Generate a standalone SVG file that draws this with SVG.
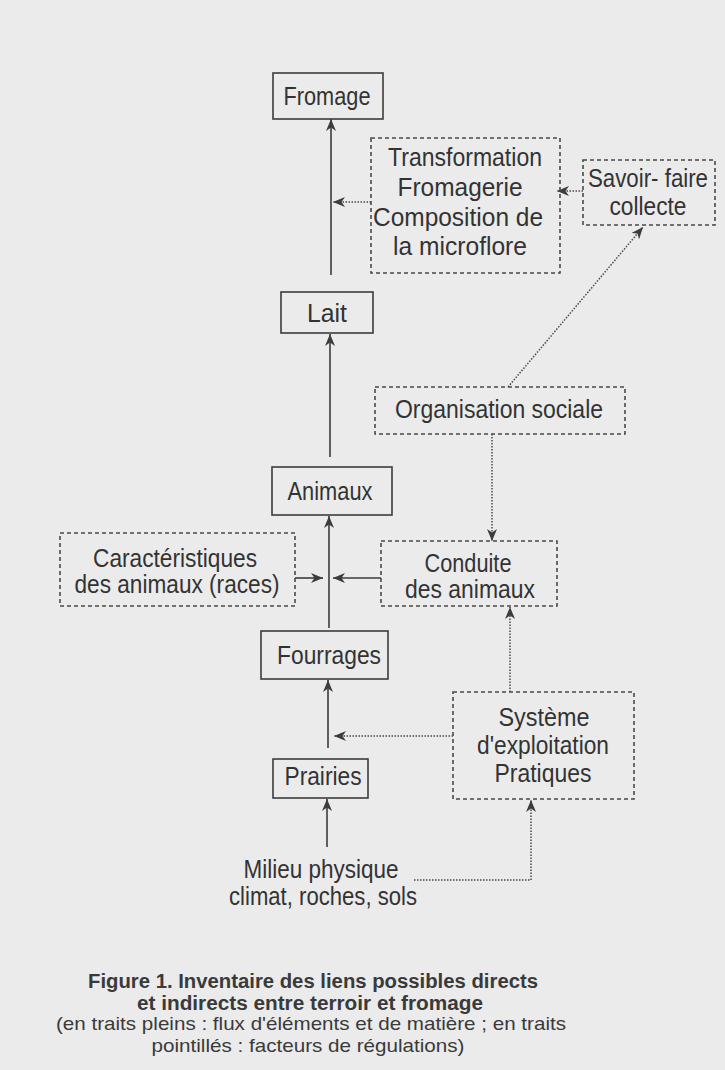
<svg xmlns="http://www.w3.org/2000/svg" width="725" height="1070" viewBox="0 0 725 1070">
<defs>
<style>
.bg{fill:#ebebeb}
.box{fill:none;stroke:#3c3c3c;stroke-width:1.6}
.dbox{fill:none;stroke:#4a4a4a;stroke-width:1.6;stroke-dasharray:4 3}
.t{font-family:"Liberation Sans",Arial,sans-serif;font-size:26px;fill:#333333;text-anchor:middle}
.cap{font-family:"Liberation Sans",Arial,sans-serif;font-size:19px;fill:#3a3a3a;text-anchor:middle}
.capb{font-family:"Liberation Sans",Arial,sans-serif;font-size:20px;font-weight:bold;fill:#3a3a3a;text-anchor:middle}
.solid{fill:none;stroke:#3c3c3c;stroke-width:1.6;marker-end:url(#ah)}
.dot{fill:none;stroke:#4a4a4a;stroke-width:1.5;stroke-dasharray:1.5 1.5;marker-end:url(#ah)}
</style>
<marker id="ah" markerUnits="userSpaceOnUse" markerWidth="13" markerHeight="10" refX="12" refY="5" orient="auto">
<path d="M0,0 L12,5 L0,10 L3.5,5 Z" fill="#3c3c3c"/>
</marker>
</defs>
<rect class="bg" x="0" y="0" width="725" height="1070"/>

<g id="connectors">
<line class="solid" x1="331" y1="275" x2="331" y2="119"/>
<line class="solid" x1="330" y1="457" x2="330" y2="334"/>
<line class="solid" x1="329" y1="628" x2="329" y2="516"/>
<line class="solid" x1="328" y1="748" x2="328" y2="680"/>
<line class="solid" x1="327" y1="847" x2="327" y2="799"/>
<line class="solid" x1="295" y1="578" x2="323" y2="578"/>
<line class="solid" x1="381" y1="578" x2="333" y2="578"/>
<line class="dot" x1="371" y1="202" x2="333" y2="202"/>
<line class="dot" x1="583" y1="191" x2="557" y2="191"/>
<line class="dot" x1="508" y1="387" x2="643" y2="227"/>
<line class="dot" x1="492" y1="434" x2="492" y2="541"/>
<line class="dot" x1="510" y1="692" x2="510" y2="607"/>
<line class="dot" x1="453" y1="736" x2="334" y2="736"/>
<path class="dot" d="M414,880 H531 V800"/>
</g>

<g id="fromage">
<rect class="box" x="273" y="73" width="110" height="46"/>
<text class="t" x="327" y="105" textLength="87" lengthAdjust="spacingAndGlyphs">Fromage</text>
</g>
<g id="transformation">
<rect class="dbox" x="371" y="138" width="189" height="135"/>
<text class="t" x="465" y="166" textLength="154" lengthAdjust="spacingAndGlyphs">Transformation</text>
<text class="t" x="460" y="196" textLength="125" lengthAdjust="spacingAndGlyphs">Fromagerie</text>
<text class="t" x="458" y="226" textLength="170" lengthAdjust="spacingAndGlyphs">Composition de</text>
<text class="t" x="460" y="255" textLength="134" lengthAdjust="spacingAndGlyphs">la microflore</text>
</g>
<g id="savoir-faire">
<rect class="dbox" x="583" y="160" width="132" height="65"/>
<text class="t" x="648" y="187" textLength="120" lengthAdjust="spacingAndGlyphs">Savoir- faire</text>
<text class="t" x="648" y="215" textLength="77" lengthAdjust="spacingAndGlyphs">collecte</text>
</g>
<g id="lait">
<rect class="box" x="281" y="292" width="92" height="41"/>
<text class="t" x="327" y="322" textLength="40" lengthAdjust="spacingAndGlyphs">Lait</text>
</g>
<g id="organisation">
<rect class="dbox" x="375" y="387" width="250" height="47"/>
<text class="t" x="499" y="418" textLength="208" lengthAdjust="spacingAndGlyphs">Organisation sociale</text>
</g>
<g id="animaux">
<rect class="box" x="272" y="467" width="120" height="48"/>
<text class="t" x="330" y="500" textLength="85" lengthAdjust="spacingAndGlyphs">Animaux</text>
</g>
<g id="caracteristiques">
<rect class="dbox" x="60" y="533" width="235" height="73"/>
<text class="t" x="175" y="567" textLength="164" lengthAdjust="spacingAndGlyphs">Caractéristiques</text>
<text class="t" x="177" y="593" textLength="205" lengthAdjust="spacingAndGlyphs">des animaux (races)</text>
</g>
<g id="conduite">
<rect class="dbox" x="381" y="541" width="176" height="65"/>
<text class="t" x="468" y="572" textLength="87" lengthAdjust="spacingAndGlyphs">Conduite</text>
<text class="t" x="470" y="598" textLength="130" lengthAdjust="spacingAndGlyphs">des animaux</text>
</g>
<g id="fourrages">
<rect class="box" x="261" y="631" width="127" height="48"/>
<text class="t" x="329" y="664" textLength="104" lengthAdjust="spacingAndGlyphs">Fourrages</text>
</g>
<g id="systeme">
<rect class="dbox" x="453" y="692" width="181" height="107"/>
<text class="t" x="544" y="726" textLength="91" lengthAdjust="spacingAndGlyphs">Système</text>
<text class="t" x="543" y="754" textLength="132" lengthAdjust="spacingAndGlyphs">d'exploitation</text>
<text class="t" x="543" y="782" textLength="97" lengthAdjust="spacingAndGlyphs">Pratiques</text>
</g>
<g id="prairies">
<rect class="box" x="273" y="759" width="95" height="39"/>
<text class="t" x="323" y="785" textLength="77" lengthAdjust="spacingAndGlyphs">Prairies</text>
</g>
<g id="milieu">
<text class="t" x="321" y="878" textLength="155" lengthAdjust="spacingAndGlyphs">Milieu physique</text>
<text class="t" x="323" y="905" textLength="188" lengthAdjust="spacingAndGlyphs">climat, roches, sols</text>
</g>

<g id="caption">
<text class="capb" x="313" y="988" textLength="450" lengthAdjust="spacingAndGlyphs">Figure 1. Inventaire des liens possibles directs</text>
<text class="capb" x="310" y="1010" textLength="346" lengthAdjust="spacingAndGlyphs">et indirects entre terroir et fromage</text>
<text class="cap" x="311" y="1030" textLength="510" lengthAdjust="spacingAndGlyphs">(en traits pleins : flux d'éléments et de matière ; en traits</text>
<text class="cap" x="308" y="1052" textLength="313" lengthAdjust="spacingAndGlyphs">pointillés : facteurs de régulations)</text>
</g>
</svg>
